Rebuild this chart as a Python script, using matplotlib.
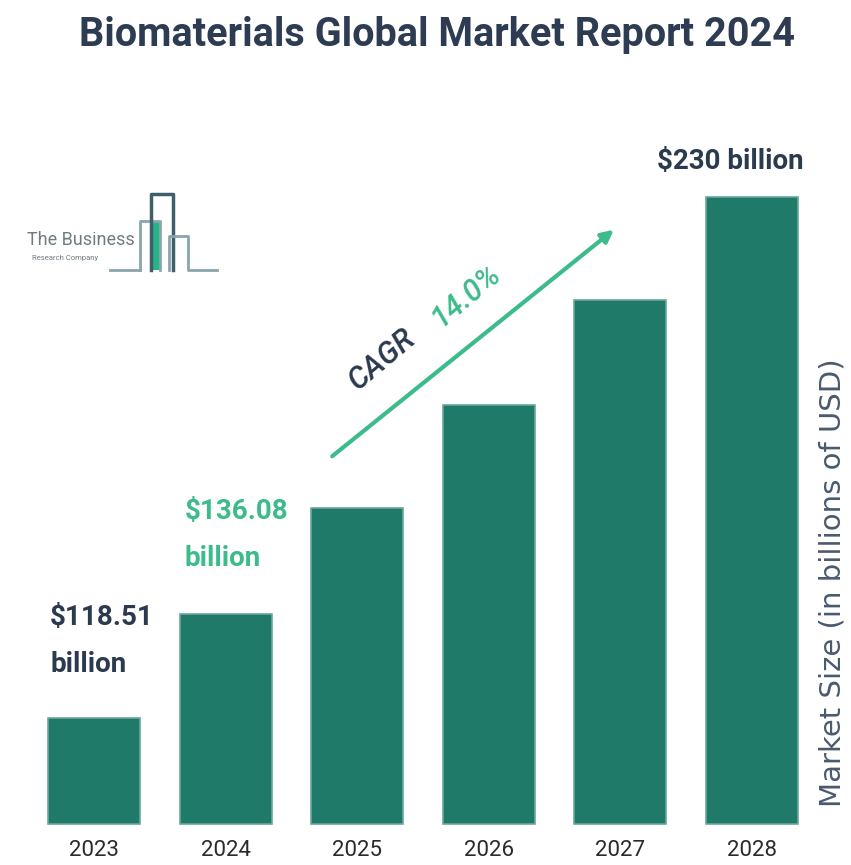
import matplotlib.pyplot as plt
from matplotlib.patches import Rectangle

years = ["2023", "2024", "2025", "2026", "2027", "2028"]
# bar heights as drawn in the picture (billion USD scale, axis does not start at 0)
bar_values = [118.51, 140.8, 163.5, 185.5, 208.0, 230.0]
base = 95.8
label_2023 = "$118.51\nbillion"
label_2024 = "$136.08\nbillion"
label_2028 = "$230 billion"
cagr = "14.0%"

W, H = 851, 865
bar_color = "#207a6a"
navy = "#2b3a4e"
green = "#3dbb8a"
cond = ["Roboto", "DejaVu Sans"]

fig = plt.figure(figsize=(W / 100, H / 100), dpi=100)

# bar axes: whole figure, data scale chosen so bars sit where the picture has them
ax = fig.add_axes([0, 0, 1, 1])
x = list(range(len(years)))
ax.bar(x, [v - base for v in bar_values], width=0.70, bottom=base, color=bar_color,
       edgecolor="#6aa89b", linewidth=1.2)
ax.set_xlim(-0.714, 5.752)
ax.set_ylim(87.0, 272.2)
ax.axis("off")

# overlay in pixel coordinates for the text and decorations
ov = fig.add_axes([0, 0, 1, 1], facecolor="none")
ov.set_xlim(0, W)
ov.set_ylim(H, 0)
ov.axis("off")

ov.text(437, 35, "Biomaterials Global Market Report 2024", ha="center", va="center",
        fontsize=28.5, fontweight="bold", color="#2d3c52", family=cond)

for i, y in enumerate(years):
    ov.text(94 + i * 131.6, 851, y, ha="center", va="center", fontsize=16,
            color="#2a2a2a", family=cond)

ov.text(50, 641, label_2023, ha="left", va="center", fontsize=20, fontweight="bold",
        color=navy, family=cond, linespacing=2.0)
ov.text(185, 535, label_2024, ha="left", va="center", fontsize=20, fontweight="bold",
        color=green, family=cond, linespacing=2.0)
ov.text(730, 162, label_2028, ha="center", va="center", fontsize=20, fontweight="bold",
        color=navy, family=cond)

ov.text(832, 583, "Market Size (in billions of USD)", ha="center", va="center",
        rotation=90, fontsize=21, color="#4a5a6e")

# CAGR arrow
ov.annotate("", xy=(616, 228), xytext=(330, 458),
            arrowprops=dict(arrowstyle="-|>", color=green, lw=3, mutation_scale=18))
ov.text(382, 360, "CAGR", rotation=40, ha="center", va="center", fontsize=22,
        color=navy, fontstyle="italic", fontweight="medium", family=cond)
ov.text(466, 296, cagr, rotation=40, ha="center", va="center", fontsize=22,
        color=green, fontstyle="italic", fontweight="medium", family=cond)

# logo
ov.text(27, 240, "The Business", ha="left", va="center", fontsize=13, color="#707b80",
        family=cond)
ov.text(32, 258, "Research Company", ha="left", va="center", fontsize=5.5, color="#707b80",
        family=cond)
ov.add_patch(Rectangle((152, 221), 8, 49, facecolor="#25b585", edgecolor="none"))
ov.plot([140, 140, 160, 160], [270, 221, 221, 270], color="#8aa5ac", lw=2)
ov.plot([151, 151, 173, 173], [270, 194, 194, 270], color="#3f5f6a", lw=2.5)
ov.plot([169, 169, 188, 188, 217], [270, 236, 236, 270, 270], color="#8aa5ac", lw=2)
ov.plot([110, 140], [270, 270], color="#8aa5ac", lw=2)

fig.savefig("out.png", dpi=100)
